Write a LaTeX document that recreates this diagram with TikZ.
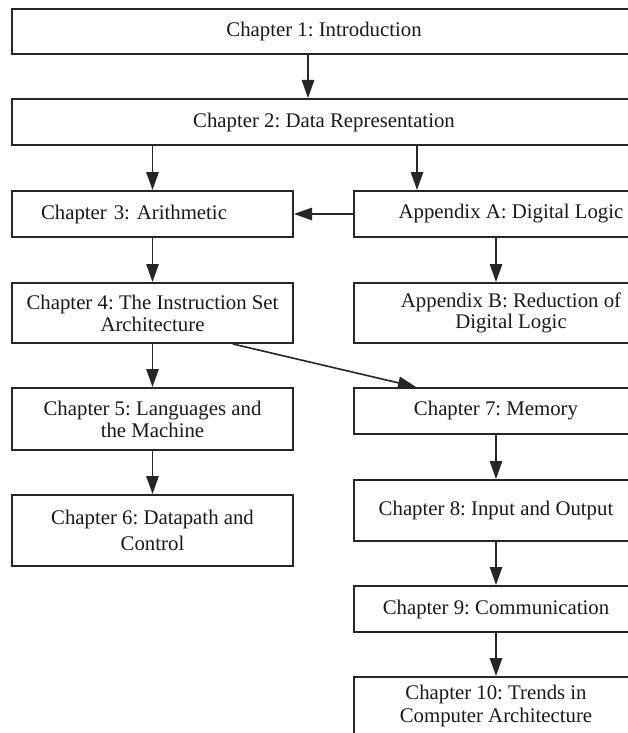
\documentclass[tikz,border=0pt]{standalone}
\usepackage{fontspec}
\setmainfont{Liberation Serif}
\usetikzlibrary{arrows.meta}
\frenchspacing

\begin{document}
\begin{tikzpicture}[x=0.5pt, y=-0.5pt,
  chapbox/.style={draw=black!85, line width=1pt, text=black!90, inner sep=2pt,
    font=\fontsize{10.4pt}{10.9pt}\selectfont},
  arr/.style={color=black!85, line width=0.8pt, -{Triangle[length=9pt, width=6.2pt]}}]
  \useasboundingbox (0, 0) rectangle (627, 733);

  \node[chapbox, minimum width=312pt, minimum height=22.5pt] (ch1) at (324, 31.5) {Chapter 1: Introduction};
  \node[chapbox, minimum width=312pt, minimum height=23pt] (ch2) at (324, 122) {Chapter 2: Data Representation};

  % left column
  \node[chapbox, align=left, text width=111.5pt, inner xsep=14.5pt, minimum height=23pt] (ch3) at (152.5, 214) {Chapter 3: Arithmetic};
  \node[chapbox, align=center, minimum width=140.5pt, minimum height=30pt] (ch4) at (152.5, 313) {Chapter 4: The Instruction Set\\ Architecture};
  \node[chapbox, align=center, minimum width=140.5pt, minimum height=31pt] (ch5) at (152.5, 419) {Chapter 5: Languages and\\ the Machine};
  \node[chapbox, align=center, minimum width=140.5pt, minimum height=35.5pt] (ch6) at (152.5, 530.5) {Chapter 6: Datapath and\\[2pt] Control};

  % right column
  \node[chapbox, minimum width=142pt, minimum height=23pt] (appa) at (496, 214) {\hspace*{15pt}Appendix A: Digital Logic};
  \node[chapbox, align=center, minimum width=142pt, minimum height=30pt] (appb) at (496, 313) {\hspace*{15pt}Appendix B: Reduction of\\ \hspace*{15pt}Digital Logic};
  \node[chapbox, minimum width=142pt, minimum height=23pt] (ch7) at (496, 411) {Chapter 7: Memory};
  \node[chapbox, minimum width=142pt, minimum height=30.5pt] (ch8) at (496, 510.5) {Chapter 8: Input and Output};
  \node[chapbox, minimum width=142pt, minimum height=23pt] (ch9) at (496, 609) {Chapter 9: Communication};
  \node[chapbox, align=center, minimum width=142pt, minimum height=29pt] (ch10) at (496, 706) {Chapter 10: Trends in\\[1pt] Computer Architecture};

  \coordinate (dropb) at ([xshift=-8pt]ch2.north);
  \coordinate (dropa) at ([xshift=-39.5pt]appa.north);
  \draw[arr] (dropb |- ch1.south) -- (dropb);
  \draw[arr] (ch3.north |- ch2.south) -- (ch3.north);
  \draw[arr] (dropa |- ch2.south) -- (dropa);
  \draw[arr] (appa.west) -- (ch3.east);
  \draw[arr] (appa.south) -- (appb.north);
  \draw[arr] (ch3.south) -- (ch4.north);
  \draw[arr] (ch4.south) -- (ch5.north);
  \draw[arr] (ch5.south) -- (ch6.north);
  \draw[arr] ([xshift=40.25pt]ch4.south) -- ([xshift=-40pt]ch7.north);
  \draw[arr] (ch7.south) -- (ch8.north);
  \draw[arr] (ch8.south) -- (ch9.north);
  \draw[arr] (ch9.south) -- (ch10.north);

\end{tikzpicture}
\end{document}
